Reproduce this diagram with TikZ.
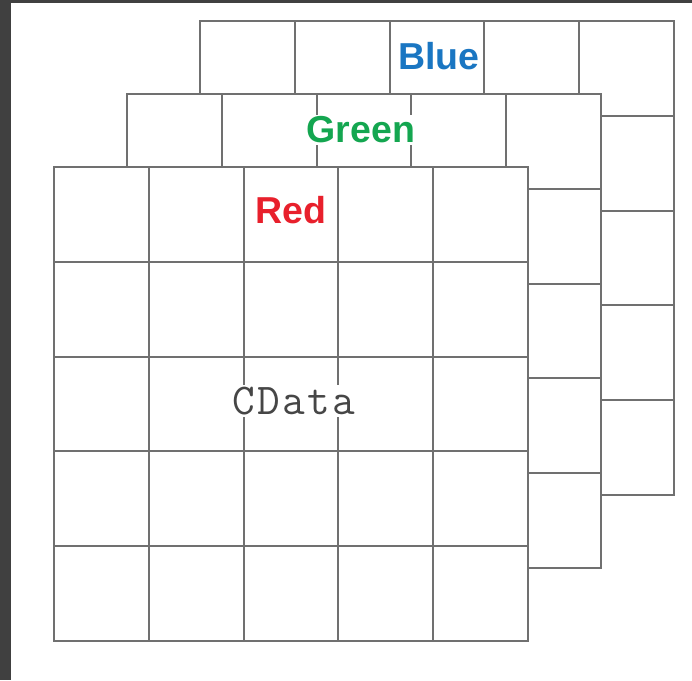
\documentclass[tikz,border=0pt]{standalone}
\usepackage{fontspec}
\setmainfont{Liberation Sans}
\newfontfamily\cdfont{Latin Modern Mono}[LetterSpace=5]
\definecolor{frame}{RGB}{64,64,64}
\definecolor{gridgray}{RGB}{112,112,112}
\definecolor{lblblue}{RGB}{26,118,194}
\definecolor{lblgreen}{RGB}{20,166,80}
\definecolor{lblred}{RGB}{232,32,44}
\definecolor{cdata}{RGB}{70,70,70}
\tikzset{
  gridline/.style={draw=gridgray, line width=2pt},
  layerlabel/.style={font=\fontsize{37.5}{37.5}\selectfont\bfseries, fill=white, inner sep=2pt},
  monolabel/.style={font=\cdfont\fontsize{44}{44}\selectfont, text=cdata, fill=white, inner sep=2pt},
}
\newcommand{\layergrid}[2]{%
  \fill[white] (#1,#2) rectangle ++(474,474);
  \foreach \i in {1,...,4} {
    \draw[gridline] ({#1+94.8*\i},#2) -- ++(0,474);
    \draw[gridline] (#1,{#2+94.8*\i}) -- ++(474,0);
  }
  \draw[gridline] (#1,#2) rectangle ++(474,474);
}
\begin{document}
\begin{tikzpicture}[x=1pt,y=-1pt]
\useasboundingbox (0,0) rectangle (692,680);
\fill[frame] (0,0) rectangle (692,680);
\fill[white] (11,3) rectangle (692,680);
% Blue layer
\layergrid{200}{21}
\node[layerlabel, text=lblblue] (blue) at (439,56) {Blue};
% Green layer
\layergrid{127}{94}
\node[layerlabel, text=lblgreen] (green) at (361,130) {Green};
% Red layer
\layergrid{54}{167}
\node[layerlabel, text=lblred] (red) at (291,210) {Red};
\node[monolabel] (cd) at (294,401) {CData};
\end{tikzpicture}
\end{document}
